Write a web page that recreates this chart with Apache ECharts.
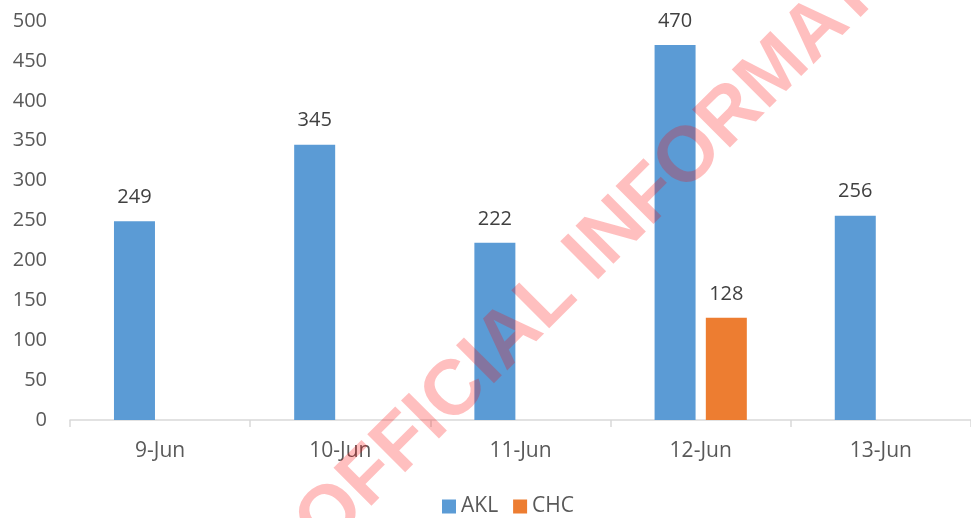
<!DOCTYPE html>
<html>
<head>
<meta charset="utf-8">
<script src="https://cdn.jsdelivr.net/npm/echarts@6/dist/echarts.min.js"></script>
<style>
  html, body { margin: 0; padding: 0; background: #fff; }
  #chart { width: 971px; height: 518px; }
</style>
</head>
<body>
<div id="chart"></div>
<script>
// 日期
const days = ['9-Jun', '10-Jun', '11-Jun', '12-Jun', '13-Jun']
// 各站点数量，没有数据的用 '-'
const aklValues = [249, 345, 222, 470, 256]
const chcValues = ['-', '-', '-', 128, '-']

const chart = echarts.init(document.getElementById('chart'))
const font = '"Open Sans", "Noto Sans", sans-serif'

const option = {
  animation: false,
  textStyle: { fontFamily: font },
  grid: {
    top: 21,
    left: 70,
    right: -2,
    bottom: 98
  },
  legend: {
    top: 491,
    left: 437,
    itemWidth: 14,
    itemHeight: 14,
    itemGap: 15,
    icon: 'rect',
    textStyle: { color: '#595959', fontSize: 21, fontFamily: font },
    data: ['AKL', 'CHC']
  },
  xAxis: {
    type: 'category',
    data: days,
    axisLine: { lineStyle: { color: '#D9D9D9', width: 1.5 } },
    axisTick: { show: true, length: 7, lineStyle: { color: '#D9D9D9', width: 1.5 } },
    axisLabel: { color: '#595959', fontSize: 21, margin: 21, fontFamily: font }
  },
  yAxis: {
    type: 'value',
    min: 0,
    max: 500,
    interval: 50,
    axisLine: { show: false },
    axisTick: { show: false },
    splitLine: { show: false },
    axisLabel: { color: '#595959', fontSize: 20, margin: 23, fontFamily: font }
  },
  series: [
    {
      name: 'AKL',
      type: 'bar',
      data: aklValues,
      barWidth: 41,
      barGap: '25%',
      itemStyle: { color: '#5B9BD5' },
      label: { show: true, position: 'top', distance: 14, color: '#404040', fontSize: 20, fontFamily: font }
    },
    {
      name: 'CHC',
      type: 'bar',
      data: chcValues,
      barWidth: 41,
      itemStyle: { color: '#ED7D31' },
      label: { show: true, position: 'top', distance: 14, color: '#404040', fontSize: 20, fontFamily: font }
    }
  ],
  // 水印
  graphic: [
    {
      type: 'text',
      x: 637,
      y: 210,
      rotation: Math.PI / 4,
      z: 100,
      silent: true,
      style: {
        text: 'OFFICIAL INFORMATION',
        fill: 'rgba(255,0,0,0.25)',
        font: 'bold 78px "Liberation Sans", Arial, sans-serif',
        align: 'center',
        verticalAlign: 'middle'
      }
    }
  ]
}
chart.setOption(option)
</script>
</body>
</html>
